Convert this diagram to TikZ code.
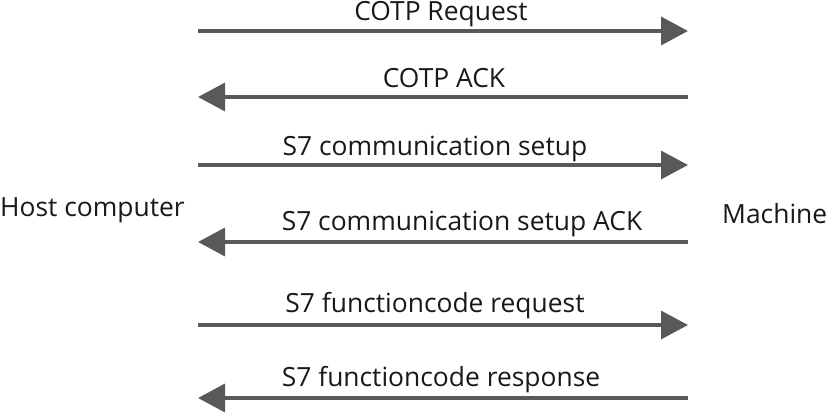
\documentclass[tikz,border=0pt]{standalone}
\usepackage{fontspec}
\setmainfont{Open Sans}
\usetikzlibrary{arrows.meta}
\begin{document}
\begin{tikzpicture}[x=1pt,y=-1pt,
  msg/.style={draw=arrowgray,line width=3.5pt,-{Triangle[length=27pt,width=28pt]}},
  lbl/.style={anchor=base,inner sep=0pt,font=\fontsize{26.4}{30}\selectfont,text=black!90}]
\definecolor{arrowgray}{HTML}{595959}
\useasboundingbox (0,0) rectangle (827,414);
\coordinate (L1) at (198,31);  \coordinate (R1) at (688,31);
\coordinate (L2) at (198,97);  \coordinate (R2) at (688,97);
\coordinate (L3) at (198,165); \coordinate (R3) at (688,165);
\coordinate (L4) at (198,242); \coordinate (R4) at (688,242);
\coordinate (L5) at (198,325); \coordinate (R5) at (688,325);
\coordinate (L6) at (198,398); \coordinate (R6) at (688,398);
\draw[msg] (L1) -- (R1);
\draw[msg] (R2) -- (L2);
\draw[msg] (L3) -- (R3);
\draw[msg] (R4) -- (L4);
\draw[msg] (L5) -- (R5);
\draw[msg] (R6) -- (L6);
\node[lbl] (t1) at (441,20.5) {COTP Request};
\node[lbl] (t2) at (444,87.5) {COTP ACK};
\node[lbl] (t3) at (435,155.5) {S7 communication setup};
\node[lbl] (t4) at (462,230.5) {S7 communication setup ACK};
\node[lbl] (t5) at (435,312.5) {S7 functioncode request};
\node[lbl] (t6) at (441,386.5) {S7 functioncode response};
\node[lbl,anchor=base west] (host) at (0,217) {Host computer};
\node[lbl,anchor=base west] (mach) at (722,223) {Machine};
\end{tikzpicture}
\end{document}
